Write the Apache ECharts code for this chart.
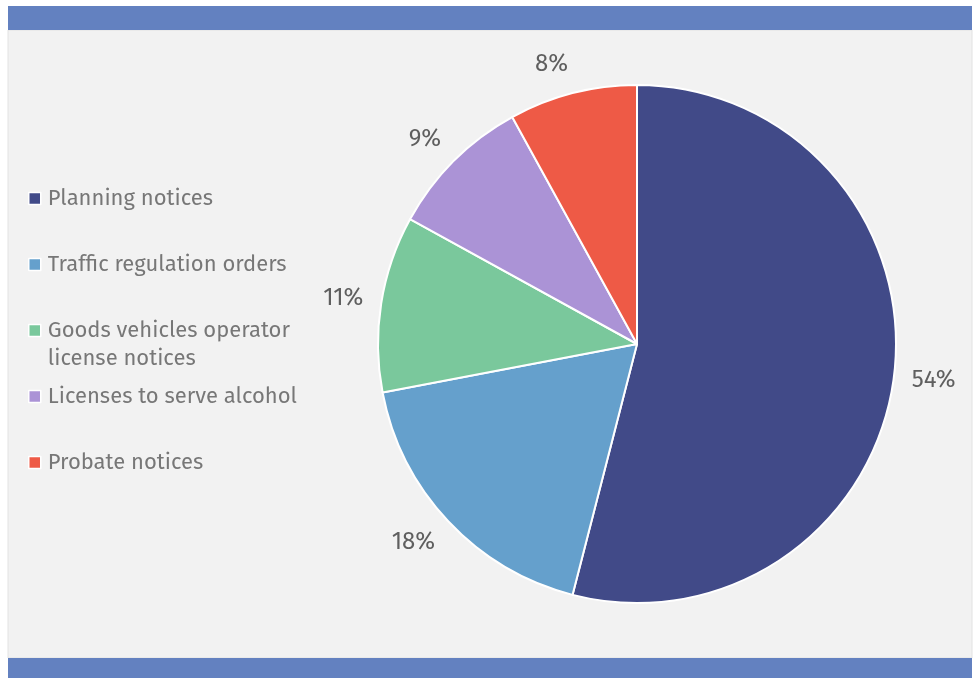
<!DOCTYPE html>
<html>
<head>
<meta charset="utf-8">
<script src="https://cdn.jsdelivr.net/npm/echarts@6/dist/echarts.min.js"></script>
<style>
  html, body { margin: 0; padding: 0; background: #ffffff; }
  #chart { width: 974px; height: 678px; }
</style>
</head>
<body>
<div id="chart"></div>
<script>
// Notice categories and their share of all notices (percent)
const categories = [
  'Planning notices',
  'Traffic regulation orders',
  'Goods vehicles operator license notices',
  'Licenses to serve alcohol',
  'Probate notices'
];
const shares = [54, 18, 11, 9, 8];
const sliceColors = ['#414a88', '#65a0cc', '#7ac89c', '#ab93d6', '#ee5a46'];

const FONT = '"Fira Sans", "Noto Sans", sans-serif';
const LEGEND_SIZE = 22;
const LEGEND_LINE = 28;
const PIE_CENTER = [637, 344];
const PIE_RADIUS = 259;
const LABEL_GAP = 18;

const chart = echarts.init(document.getElementById('chart'), null, { renderer: 'canvas' });

const pieData = categories.map((name, i) => ({
  name: name,
  value: shares[i],
  itemStyle: { color: sliceColors[i] }
}));

// Long names wrap onto a second line; a blank line above keeps the
// marker level with the first line of text.
function isWrapped(name) { return name.indexOf('operator ') >= 0; }
function legendText(name) {
  return isWrapped(name) ? '\n' + name.replace('operator ', 'operator\n') : name;
}

const legends = categories.map((name, i) => {
  const markerY = 198.5 + i * 66;
  return {
    data: [name],
    orient: 'vertical',
    left: 28,
    top: markerY - LEGEND_LINE / 2 - (isWrapped(name) ? LEGEND_LINE : 0),
    padding: 0,
    icon: 'rect',
    itemWidth: 12,
    itemHeight: 12,
    selectedMode: false,
    itemStyle: { borderColor: '#ffffff', borderWidth: 1.5 },
    formatter: legendText,
    textStyle: {
      fontFamily: FONT,
      fontSize: LEGEND_SIZE,
      color: '#777777',
      lineHeight: LEGEND_LINE,
      padding: [0, 0, 0, 2]
    }
  };
});

// Move each percentage label just outside the rim along its slice's
// mid-angle: the label sits on the outer side horizontally and is pushed
// outward vertically in proportion to the direction.
function outsideEnd(params) {
  const r = params.labelRect;
  const lx = r.x + r.width / 2;
  const ly = r.y + r.height / 2;
  const vx = lx - PIE_CENTER[0];
  const vy = ly - PIE_CENTER[1];
  const len = Math.sqrt(vx * vx + vy * vy) || 1;
  const ux = vx / len, uy = vy / len;
  const dist = PIE_RADIUS + LABEL_GAP;
  return {
    x: PIE_CENTER[0] + ux * dist + (ux < 0 ? -1 : 1) * r.width / 2,
    y: PIE_CENTER[1] + uy * dist + uy * r.height / 2,
    align: 'center',
    verticalAlign: 'middle'
  };
}

chart.setOption({
  animation: false,
  backgroundColor: 'transparent',
  graphic: [
    { type: 'rect', silent: true, z: -10, shape: { x: 8, y: 30, width: 964, height: 628 },
      style: { fill: '#f2f2f2', stroke: '#e2e2e2', lineWidth: 1 } },
    { type: 'rect', silent: true, z: -9, shape: { x: 8, y: 6, width: 964, height: 24 },
      style: { fill: '#6381c0' } },
    { type: 'rect', silent: true, z: -9, shape: { x: 8, y: 658, width: 964, height: 20 },
      style: { fill: '#6381c0' } }
  ],
  legend: legends,
  series: [
    {
      name: 'Share',
      type: 'pie',
      center: PIE_CENTER,
      radius: [0, PIE_RADIUS],
      startAngle: 90,
      clockwise: true,
      avoidLabelOverlap: false,
      emphasis: { disabled: true },
      itemStyle: { borderColor: '#ffffff', borderWidth: 2 },
      labelLine: { show: false },
      label: {
        show: true,
        position: 'inside',
        formatter: '{c}%',
        fontFamily: FONT,
        fontSize: 24,
        color: '#5f5f5f'
      },
      labelLayout: outsideEnd,
      data: pieData
    }
  ]
});
</script>
</body>
</html>
